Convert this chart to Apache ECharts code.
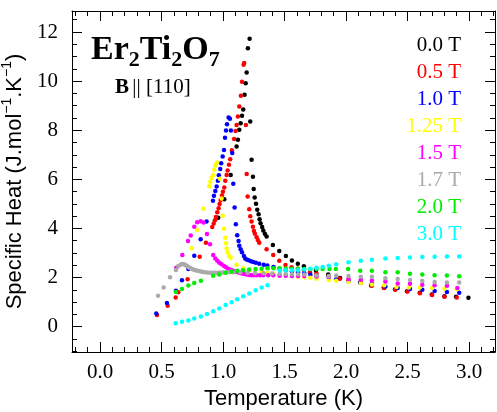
<!DOCTYPE html>
<html><head><meta charset="utf-8">
<script src="https://cdn.jsdelivr.net/npm/echarts@6/dist/echarts.min.js"></script>
<style>html,body{margin:0;padding:0;background:#fff}#c{width:497px;height:412px}</style>
</head><body><div id="c"></div>
<script>
// ---- data (Temperature K, Specific heat J/mol/K) ----
const fieldLabels = ['0.0 T', '0.5 T', '1.0 T', '1.25 T', '1.5 T', '1.7 T', '2.0 T', '3.0 T'];
const fieldColors = ['#000000', '#ff0000', '#0000ff', '#ffff00', '#ff00ff', '#aaaaaa', '#00ee00', '#00ffff'];

const s00 = [[0.961,4.44],[1.010,5.19],[1.062,6.18],[1.110,7.34],[1.121,7.61],[1.132,8.02],[1.143,8.28],[1.154,8.59],[1.164,8.84],[1.175,9.44],[1.184,9.91],[1.192,10.35],[1.202,11.34],[1.216,11.73],[1.221,8.36],[1.232,6.80],[1.243,6.11],[1.249,5.61],[1.257,5.26],[1.268,5.01],[1.278,4.76],[1.289,4.58],[1.297,4.38],[1.305,4.21],[1.318,4.06],[1.327,3.92],[1.340,3.79],[1.354,3.67],[1.405,3.33],[1.457,3.08],[1.511,2.88],[1.560,2.70],[1.608,2.56],[1.657,2.46],[1.755,2.28],[1.855,2.13],[1.952,1.98],[2.115,1.80],[2.204,1.68],[2.307,1.60],[2.399,1.53],[2.496,1.44],[2.600,1.38],[2.697,1.31],[2.800,1.24],[2.894,1.22],[2.995,1.18]];
const s05 = [[0.463,0.48],[0.550,0.85],[0.615,1.19],[0.636,1.40],[0.712,1.93],[0.810,2.85],[0.861,3.42],[0.912,4.06],[0.924,4.20],[0.934,4.33],[0.942,4.47],[0.953,4.66],[0.964,4.82],[0.972,5.00],[0.980,5.16],[0.991,5.34],[0.999,5.50],[1.010,5.67],[1.018,5.94],[1.029,6.18],[1.037,6.36],[1.048,6.59],[1.058,6.82],[1.072,7.18],[1.090,7.64],[1.102,7.97],[1.110,8.21],[1.121,8.56],[1.132,8.97],[1.145,9.40],[1.154,9.97],[1.167,10.67],[1.172,10.74],[1.186,8.21],[1.192,6.22],[1.200,5.30],[1.213,4.78],[1.221,4.50],[1.232,4.28],[1.243,4.07],[1.251,3.90],[1.259,3.78],[1.273,3.64],[1.284,3.52],[1.294,3.42],[1.354,3.15],[1.408,2.92],[1.457,2.69],[1.508,2.51],[1.557,2.42],[1.608,2.36],[1.657,2.31],[1.706,2.22],[1.760,2.16],[1.860,2.05],[1.950,1.95],[2.020,1.89],[2.120,1.78],[2.210,1.67],[2.310,1.58],[2.400,1.50],[2.500,1.43],[2.600,1.36],[2.700,1.29],[2.800,1.22],[2.900,1.19]];
const s10 = [[0.457,0.54],[0.544,0.97],[0.617,1.46],[0.666,1.89],[0.718,2.35],[0.766,2.89],[0.818,3.56],[0.866,4.28],[0.918,5.13],[0.926,5.33],[0.937,5.53],[0.948,5.71],[0.958,5.94],[0.966,6.17],[0.977,6.42],[0.985,6.66],[0.997,6.93],[1.008,7.20],[1.016,7.69],[1.024,7.99],[1.032,8.24],[1.045,8.52],[1.056,8.47],[1.064,7.99],[1.075,7.07],[1.083,5.82],[1.094,4.85],[1.104,4.17],[1.115,3.72],[1.126,3.49],[1.132,3.30],[1.143,3.15],[1.154,3.03],[1.170,2.88],[1.180,2.78],[1.192,2.74],[1.208,2.71],[1.227,2.67],[1.245,2.63],[1.267,2.60],[1.294,2.56],[1.330,2.52],[1.360,2.49],[1.410,2.43],[1.460,2.36],[1.510,2.30],[1.560,2.26],[1.610,2.22],[1.660,2.18],[1.710,2.12],[1.760,2.06],[1.860,1.98],[1.920,1.93],[2.020,1.85],[2.120,1.80],[2.210,1.75],[2.320,1.64],[2.420,1.58],[2.520,1.54],[2.620,1.50],[2.720,1.45],[2.820,1.41],[2.920,1.38]];
const s125 = [[0.745,3.19],[0.790,3.94],[0.839,4.80],[0.888,5.72],[0.896,5.90],[0.907,6.05],[0.918,6.18],[0.929,6.39],[0.937,6.56],[0.950,6.69],[0.975,6.02],[0.988,5.22],[0.997,4.52],[1.008,3.99],[1.018,3.62],[1.024,3.40],[1.029,3.18],[1.038,3.03],[1.050,2.88],[1.062,2.81],[1.110,2.52],[1.164,2.38],[1.210,2.30],[1.260,2.25],[1.310,2.22],[1.360,2.19],[1.410,2.16],[1.460,2.12],[1.510,2.10],[1.560,2.06],[1.610,2.03],[1.660,2.01],[1.710,1.99],[1.760,1.95],[1.860,1.90],[1.920,1.87],[2.020,1.83],[2.120,1.78],[2.210,1.72],[2.310,1.69],[2.410,1.62],[2.510,1.60],[2.600,1.60],[2.700,1.58],[2.800,1.55],[2.900,1.52]];
const s15 = [[0.620,2.40],[0.669,2.92],[0.715,3.49],[0.737,3.71],[0.766,4.07],[0.790,4.25],[0.818,4.29],[0.842,4.24],[0.869,3.77],[0.894,3.36],[0.920,2.92],[0.937,2.78],[0.953,2.69],[0.969,2.60],[0.988,2.54],[1.008,2.47],[1.024,2.42],[1.042,2.36],[1.056,2.33],[1.070,2.31],[1.090,2.27],[1.110,2.24],[1.130,2.20],[1.151,2.17],[1.172,2.15],[1.192,2.13],[1.212,2.11],[1.232,2.10],[1.252,2.10],[1.273,2.10],[1.300,2.10],[1.327,2.10],[1.367,2.10],[1.408,2.10],[1.460,2.07],[1.510,2.07],[1.560,2.06],[1.610,2.06],[1.660,2.06],[1.760,2.04],[1.860,2.03],[2.020,1.94],[2.120,1.91],[2.210,1.88],[2.320,1.84],[2.420,1.76],[2.520,1.75],[2.620,1.71],[2.720,1.69],[2.820,1.67],[2.905,1.58]];
const s17 = [[0.471,1.26],[0.517,1.60],[0.569,2.01],[0.617,2.31],[0.636,2.47],[0.655,2.52],[0.666,2.55],[0.677,2.55],[0.690,2.52],[0.700,2.49],[0.709,2.46],[0.720,2.42],[0.731,2.39],[0.745,2.36],[0.758,2.33],[0.772,2.31],[0.785,2.29],[0.802,2.27],[0.820,2.25],[0.836,2.23],[0.853,2.22],[0.873,2.21],[0.894,2.20],[0.914,2.20],[0.934,2.20],[0.955,2.20],[0.975,2.21],[1.000,2.21],[1.029,2.22],[1.056,2.22],[1.083,2.22],[1.140,2.21],[1.200,2.20],[1.260,2.19],[1.330,2.18],[1.400,2.17],[1.460,2.16],[1.510,2.15],[1.560,2.14],[1.610,2.14],[1.660,2.13],[1.760,2.09],[1.860,2.06],[1.920,2.08],[2.020,2.06],[2.120,2.03],[2.210,2.03],[2.320,1.97],[2.420,1.94],[2.520,1.90],[2.620,1.86],[2.720,1.82],[2.820,1.80],[2.920,1.80]];
const s20 = [[0.617,1.41],[0.666,1.54],[0.718,1.68],[0.766,1.78],[0.820,1.87],[0.920,2.07],[0.969,2.13],[1.021,2.20],[1.070,2.25],[1.115,2.28],[1.164,2.30],[1.213,2.33],[1.265,2.35],[1.314,2.36],[1.362,2.38],[1.410,2.38],[1.460,2.38],[1.510,2.37],[1.560,2.36],[1.610,2.36],[1.660,2.35],[1.710,2.35],[1.760,2.35],[1.810,2.35],[1.866,2.35],[1.917,2.35],[2.017,2.35],[2.115,2.28],[2.210,2.28],[2.320,2.22],[2.420,2.22],[2.520,2.16],[2.620,2.13],[2.720,2.10],[2.820,2.09],[2.920,2.05]];
const s30 = [[0.615,0.14],[0.666,0.20],[0.718,0.25],[0.766,0.33],[0.820,0.42],[0.869,0.52],[0.920,0.63],[0.969,0.74],[1.021,0.88],[1.070,1.00],[1.115,1.12],[1.164,1.24],[1.213,1.35],[1.265,1.48],[1.314,1.60],[1.362,1.69],[1.462,2.29],[1.510,2.30],[1.560,2.30],[1.610,2.31],[1.660,2.33],[1.710,2.36],[1.760,2.40],[1.810,2.43],[1.860,2.48],[1.920,2.54],[2.020,2.62],[2.120,2.69],[2.210,2.73],[2.320,2.78],[2.420,2.80],[2.520,2.82],[2.620,2.84],[2.720,2.85],[2.820,2.86],[2.920,2.86]];
const seriesData = [s00, s05, s10, s125, s15, s17, s20, s30];

// ---- axis ticks ----
const xMajorTicks = [0, 0.5, 1, 1.5, 2, 2.5, 3];
const xMinorTicks = [-0.2,-0.1,0.1,0.2,0.3,0.4,0.6,0.7,0.8,0.9,1.1,1.2,1.3,1.4,1.6,1.7,1.8,1.9,2.1,2.2,2.3,2.4,2.6,2.7,2.8,2.9,3.1,3.2];
const yMajorTicks = [0, 2, 4, 6, 8, 10, 12];
const yMinorTicks = [-1,-0.5,0.5,1,1.5,2.5,3,3.5,4.5,5,5.5,6.5,7,7.5,8.5,9,9.5,10.5,11,11.5,12.5];

const X_MIN = -0.228, X_MAX = 3.211, Y_MIN = -1.03, Y_MAX = 12.855;
const SERIF = 'Liberation Serif', SANS = 'Liberation Sans';

function axisBase(pos, vals, len, showLine) {
  return {
    type: 'value', position: pos,
    min: pos === 'bottom' || pos === 'top' ? X_MIN : Y_MIN,
    max: pos === 'bottom' || pos === 'top' ? X_MAX : Y_MAX,
    axisLine: { show: showLine, onZero: false, lineStyle: { color: '#000', width: 1 } },
    axisTick: { show: true, inside: true, length: len, customValues: vals, lineStyle: { color: '#000', width: 1 } },
    axisLabel: { show: false },
    splitLine: { show: false }
  };
}

const xBottom = axisBase('bottom', xMajorTicks, 10, true);
xBottom.axisLabel = { show: true, customValues: xMajorTicks, formatter: v => v.toFixed(1), fontFamily: SERIF, fontSize: 21, color: '#000', margin: 10 };
xBottom.name = 'Temperature (K)';
xBottom.nameLocation = 'middle';
xBottom.nameGap = 30;
xBottom.nameTextStyle = { fontFamily: SANS, fontSize: 22, color: '#000' };

const yLeft = axisBase('left', yMajorTicks, 10, true);
yLeft.axisLabel = { show: true, customValues: yMajorTicks, formatter: v => String(v), fontFamily: SERIF, fontSize: 21, color: '#000', margin: 14 };
yLeft.name = '{a|Specific Heat (J.mol}{s|−1}{a|.K}{s|−1}{a|)}';
yLeft.nameLocation = 'middle';
yLeft.nameGap = 42;
yLeft.nameTextStyle = { fontFamily: SANS, fontSize: 22, color: '#000',
  rich: { a: { fontFamily: SANS, fontSize: 22, color: '#000', lineHeight: 26, verticalAlign: 'bottom' },
          s: { fontFamily: SANS, fontSize: 14, color: '#000', lineHeight: 14, verticalAlign: 'top' } } };

const option = {
  animation: false,
  backgroundColor: '#fff',
  grid: { left: 72, top: 11, right: 2, bottom: 60, containLabel: false, outerBoundsMode: 'none' },
  xAxis: [
    xBottom,
    axisBase('bottom', xMinorTicks, 5, false),
    axisBase('top', xMajorTicks, 10, true),
    axisBase('top', xMinorTicks, 5, false)
  ],
  yAxis: [
    yLeft,
    axisBase('left', yMinorTicks, 5, false),
    axisBase('right', yMajorTicks, 10, true),
    axisBase('right', yMinorTicks, 5, false)
  ],
  series: seriesData.map((d, i) => ({
    type: 'scatter', name: fieldLabels[i], data: d,
    xAxisIndex: 0, yAxisIndex: 0,
    symbol: 'circle', symbolSize: 4.5,
    itemStyle: { color: fieldColors[i], opacity: 1 }
  })),
  graphic: [
    { type: 'text', left: 91, top: 33, style: {
        text: '{b|Er}{s|2}{b|Ti}{s|2}{b|O}{s|7}',
        rich: { b: { fontFamily: SERIF, fontWeight: 'bold', fontSize: 34, lineHeight: 34, verticalAlign: 'top', fill: '#000' },
                s: { fontFamily: SERIF, fontWeight: 'bold', fontSize: 22, lineHeight: 22, verticalAlign: 'top', padding: [16, 0, 0, 0], fill: '#000' } } } },
    { type: 'text', left: 115, top: 77, style: {
        text: '{b|B} {r||| [110]}',
        rich: { b: { fontFamily: SERIF, fontWeight: 'bold', fontSize: 21, fill: '#000' },
                r: { fontFamily: SERIF, fontSize: 21, fill: '#000' } } } }
  ].concat(fieldLabels.map((lab, i) => ({
    type: 'text', x: 461, y: 45.5 + 27.0 * i,
    style: { text: lab, fontFamily: SERIF, fontSize: 21, fill: fieldColors[i], textAlign: 'right', textVerticalAlign: 'middle' }
  })))
};

const chart = echarts.init(document.getElementById('c'), null, { renderer: 'canvas', width: 497, height: 412 });
chart.setOption(option);
</script>
</body></html>
